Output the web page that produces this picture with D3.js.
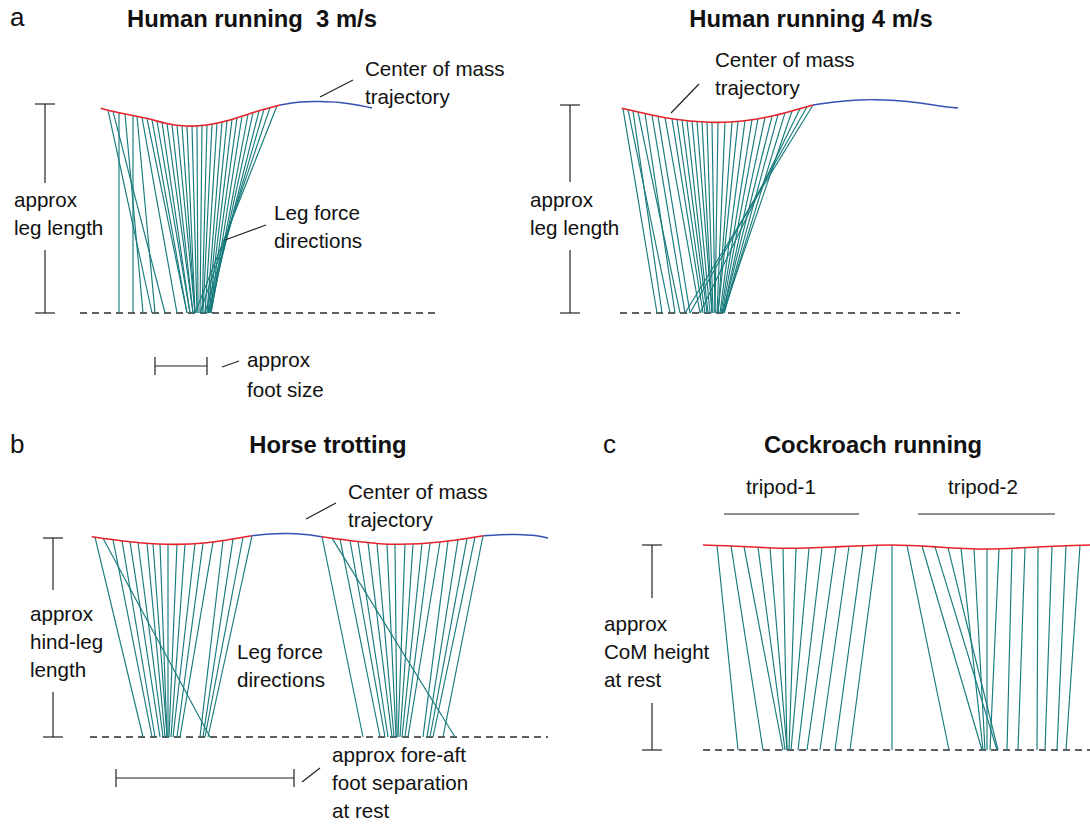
<!DOCTYPE html>
<html>
<meta charset="utf-8">
<head>
<script src="https://d3js.org/d3.v7.min.js"></script>
<style>
body { margin: 0; background: #fff; }
text { font-family: "Liberation Sans", Arial, sans-serif; fill: #111; }
</style>
</head>
<body>
<div id="fig"></div>
<script>
// ---- data, local units: x along the ground, h = height above ground ----

// a, human running 3 m/s
var run3Stance = [[20.7,204.7],[40,200],[66.7,194.7],[86.7,189.5],[106.7,187],[126.7,188],[150,193],[175,201],[200,208]];
var run3Flight = [[200,208],[220,211],[240,211.5],[260,210.5],[280,207.5],[292,205]];
var run3LegTop  = [28,33,39,45,53,57,62,67,72,77,82,87,92,97,102,107,112,117,122,127,132,137,142,147,152,157,162,168,173,179,184,190,197];
var run3LegFoot = [72,85,39,63,53,75,97,107,107,110,110,113,113,115,115,115,117,118,120,122,123,125,127,128,129,130,131,131,130,128,125,120,115];

// a, human running 4 m/s
var run4Stance = [[1.7,204.7],[25,199.5],[46.7,195],[70,192],[90,190.7],[110,191],[130,193],[150,196.5],[170,201.5],[193,208]];
var run4Flight = [[193,208],[215,211],[240,213],[255,213.3],[275,212.5],[300,210],[320,207],[338,205]];
var run4LegTop  = [3,8,13,18,25,32,38,45,52,57,62,67,72,77,82,87,92,98,105,112,118,125,132,138,145,152,158,165,172,180,187,193];
var run4LegFoot = [37,50,42,60,55,65,70,80,83,85,87,88,90,92,92,93,95,95,97,98,98,100,101,102,103,103,104,104,103,80,70,65];

// b, horse trotting (two stance phases)
var trotStance1 = [[1.7,200.3],[40,195.3],[76.7,192.7],[116.7,194.3],[161.7,201.3]];
var trotFlight1 = [[161.7,201.3],[180,203],[197,203.5],[215,202.5],[231.7,200.3]];
var trotStance2 = [[231.7,200.3],[270,195.3],[306.7,192.7],[350,195],[393.3,201.3]];
var trotFlight2 = [[393.3,201.3],[410,202.3],[426.7,202.5],[445,201.5],[458,199]];
var trotLegTop1  = [5,13,23,32,40,48,57,63,70,78,87,95,105,113,123,133,143,153,162];
var trotLegFoot1 = [53,120,62,65,70,73,75,77,77,78,79,81,83,87,90,110,113,115,118];
var trotLegTop2  = [232,242,250,260,268,278,287,297,305,315,323,332,340,350,358,368,377,385,393];
var trotLegFoot2 = [273,365,290,295,298,302,304,306,307,308,310,312,315,318,333,337,340,343,353];

// c, cockroach running (no flight phase)
var roachStance = [[0,205],[40,203.5],[80,201.7],[130,203],[187,205],[235,203],[284,201],[335,203],[387,205]];
var tripod1Top  = [14,28,41,55,67,80,93,106,119,133,146,160,174,189];
var tripod1Foot = [35,60,80,82,84,84,86,88,95,104,117,132,147,189];
var tripod2Top  = [204,219,232,245,258,271,284,296,309,322,335,349,363,377];
var tripod2Foot = [246,279,294,295,280,282,284,287,304,315,334,342,354,363];

// ---- layout ----
var W = 1090, H = 828;
var legColor = "#177a7c", stanceColor = "#e8222a", flightColor = "#3550b0", inkColor = "#222";

var svg = d3.select("#fig").append("svg")
    .attr("width", W).attr("height", H)
    .style("background", "#fff");

var panels = [
  {x0: 80, y0: 313, len: 360,
   stance: [run3Stance], flight: [run3Flight],
   legs: [{top: run3LegTop, foot: run3LegFoot, s: 0}],
   bar: {dx: -35, h: 209, gap: [63, 130]}},
  {x0: 620, y0: 313, len: 340,
   stance: [run4Stance], flight: [run4Flight],
   legs: [{top: run4LegTop, foot: run4LegFoot, s: 0}],
   bar: {dx: -50, h: 208, gap: [63, 131]}},
  {x0: 90, y0: 737, len: 458,
   stance: [trotStance1, trotStance2], flight: [trotFlight1, trotFlight2],
   legs: [{top: trotLegTop1, foot: trotLegFoot1, s: 0}, {top: trotLegTop2, foot: trotLegFoot2, s: 1}],
   bar: {dx: -37, h: 199, gap: [45, 147]}},
  {x0: 703, y0: 750, len: 387,
   stance: [roachStance], flight: [],
   legs: [{top: tripod1Top, foot: tripod1Foot, s: 0}, {top: tripod2Top, foot: tripod2Foot, s: 0}],
   bar: {dx: -51, h: 205, gap: [47, 152]}}
];

// y on a drawn path at screen x (path runs left to right)
function yOnPath(node, px) {
  var lo = 0, hi = node.getTotalLength(), p;
  for (var i = 0; i < 30; i++) {
    var mid = (lo + hi) / 2;
    p = node.getPointAtLength(mid);
    if (p.x < px) lo = mid; else hi = mid;
  }
  return node.getPointAtLength((lo + hi) / 2).y;
}

panels.forEach(function(P) {
  P.x = d3.scaleLinear().domain([0, P.len]).range([P.x0, P.x0 + P.len]);
  P.y = d3.scaleLinear().domain([0, 220]).range([P.y0, P.y0 - 220]);
  var line = d3.line().x(function(d){ return P.x(d[0]); }).y(function(d){ return P.y(d[1]); })
      .curve(d3.curveNatural);
  var g = svg.append("g");

  // ground
  g.append("line")
    .attr("x1", P.x(0)).attr("x2", P.x(P.len))
    .attr("y1", P.y(0)).attr("y2", P.y(0))
    .attr("stroke", "#2a2a2a").attr("stroke-width", 1.5)
    .attr("stroke-dasharray", "7,5");

  var legG = g.append("g");

  P.flight.forEach(function(f) {
    g.append("path").attr("d", line(f)).attr("fill", "none")
      .attr("stroke", flightColor).attr("stroke-width", 1.4);
  });
  var stancePaths = P.stance.map(function(s) {
    return g.append("path").attr("d", line(s)).attr("fill", "none")
      .attr("stroke", stanceColor).attr("stroke-width", 1.6).node();
  });

  // leg force directions
  P.legs.forEach(function(L) {
    var rows = L.top.map(function(t, i) { return {t: t, f: L.foot[i]}; });
    legG.selectAll(null).data(rows).enter().append("line")
      .attr("x1", function(d){ return P.x(d.t); })
      .attr("y1", function(d){ return yOnPath(stancePaths[L.s], P.x(d.t)); })
      .attr("x2", function(d){ return P.x(d.f); })
      .attr("y2", P.y(0))
      .attr("stroke", legColor).attr("stroke-width", 1.15);
  });

  // approx height bar
  var bx = P.x0 + P.bar.dx;
  var bg = g.append("g").attr("stroke", inkColor).attr("stroke-width", 1.2);
  [0, P.bar.h].forEach(function(h) {
    bg.append("line").attr("x1", bx - 10).attr("x2", bx + 10)
      .attr("y1", P.y(h)).attr("y2", P.y(h));
  });
  bg.append("line").attr("x1", bx).attr("x2", bx).attr("y1", P.y(0)).attr("y2", P.y(P.bar.gap[0]));
  bg.append("line").attr("x1", bx).attr("x2", bx).attr("y1", P.y(P.bar.gap[1])).attr("y2", P.y(P.bar.h));
});

// ---- annotations ----
function label(x, y, lines, step) {
  var t = svg.append("text").attr("x", x).attr("y", y).style("font-size", "20.6px");
  lines.forEach(function(s, i) {
    t.append("tspan").attr("x", x).attr("y", y + i * (step || 28)).text(s);
  });
}
function seg(x1, y1, x2, y2) {
  svg.append("line").attr("x1", x1).attr("y1", y1).attr("x2", x2).attr("y2", y2)
    .attr("stroke", inkColor).attr("stroke-width", 1.2);
}
function hbar(x1, x2, y) {
  seg(x1, y, x2, y); seg(x1, y - 9, x1, y + 9); seg(x2, y - 9, x2, y + 9);
}
function title(x, y, s) {
  svg.append("text").attr("x", x).attr("y", y).attr("text-anchor", "middle")
    .style("font-size", "23.8px").style("font-weight", "bold").style("white-space", "pre").text(s);
}
function letter(x, y, s) {
  svg.append("text").attr("x", x).attr("y", y).style("font-size", "26px").text(s);
}

letter(10, 26, "a"); letter(10, 453, "b"); letter(603, 453, "c");
title(252, 27, "Human running  3 m/s");
title(811, 27, "Human running 4 m/s");
title(328, 453, "Horse trotting");
title(873, 453, "Cockroach running");

// panel a, 3 m/s
label(365, 76, ["Center of mass", "trajectory"]);
seg(320, 97, 353, 80);
label(14, 207, ["approx", "leg length"]);
label(274, 220, ["Leg force", "directions"]);
seg(225, 240, 266, 225);
hbar(155, 207, 366);
seg(222, 367, 239, 361);
label(247, 367, ["approx", "foot size"], 30);

// panel a, 4 m/s
label(715, 67, ["Center of mass", "trajectory"]);
seg(671, 113, 699, 84);
label(530, 207, ["approx", "leg length"]);

// panel b
label(348, 499, ["Center of mass", "trajectory"]);
seg(306, 519, 336, 503);
label(30, 621, ["approx", "hind-leg", "length"]);
label(237, 659, ["Leg force", "directions"]);
hbar(116, 294, 778);
seg(302, 782, 320, 768);
label(332, 762, ["approx fore-aft", "foot separation", "at rest"]);

// panel c
label(604, 631, ["approx", "CoM height", "at rest"]);
svg.append("text").attr("x", 781).attr("y", 494).attr("text-anchor", "middle").style("font-size", "20.6px").text("tripod-1");
svg.append("text").attr("x", 983).attr("y", 494).attr("text-anchor", "middle").style("font-size", "20.6px").text("tripod-2");
seg(724, 514, 859, 514);
seg(918, 514, 1055, 514);
</script>
</body>
</html>
